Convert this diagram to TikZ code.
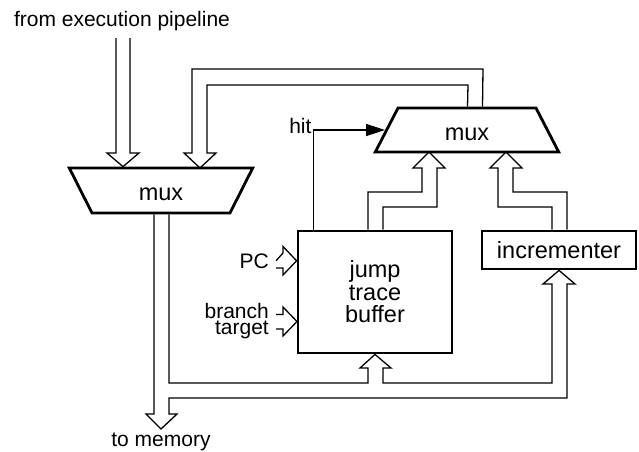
\documentclass[tikz,border=0pt]{standalone}
\usepackage{fontspec}
\setmainfont{Liberation Sans}
\usetikzlibrary{arrows.meta, shapes.geometric}
\newcommand{\lblfont}{\fontsize{21}{16.5}\selectfont}
\newcommand{\boxfont}{\fontsize{23.5}{22.5}\selectfont}
\tikzset{
  muxbox/.style  = {trapezium, trapezium angle=71, trapezium stretches=true, draw,
                    line width=2.8pt, minimum width=184pt, minimum height=45pt,
                    inner sep=0pt, text height=21pt, font=\boxfont},
  unitbox/.style = {rectangle, draw, line width=2.8pt, minimum width=154pt,
                    inner sep=0pt, align=center, font=\boxfont},
  lbl/.style     = {font=\lblfont, inner sep=0pt},
  bus/.style     = {line width=1.3pt, line join=miter},
  ctl/.style     = {line width=1.3pt, -{Triangle[length=19pt, width=12pt]}},
}
\begin{document}
\begin{tikzpicture}[x=1pt, y=-1pt]
  \useasboundingbox (0,0) rectangle (639,451);
  % blocks
  \node[muxbox, shape border rotate=180] (lmux) at (161,190.5) {mux};
  \node[muxbox, minimum height=44pt]      (tmux) at (467,130)   {mux};
  \node[unitbox, minimum height=122pt]    (jtb)  at (375,292)   {jump\\trace\\buffer};
  \node[unitbox, minimum height=38pt]     (inc)  at (559,250)   {incrementer};
  % labels
  \node[lbl, anchor=base] (pipe) at (122,26)  {from execution pipeline};
  \node[lbl, anchor=base] (mem)  at (161,446) {to memory};
  \node[lbl, anchor=base east] (pc) at (269,268) {PC};
  \node[lbl, anchor=east, align=right] (tgt) at (269,321) {branch\\target};
  \coordinate (pipein) at (123,38);
  % buses
  \draw[bus] ([xshift=-7pt]pipein) -- (116,153) -- (107,153) -- (lmux.north -| pipein)
             -- (139,153) -- (130,153) -- ([xshift=7pt]pipein);
  \draw[bus] ([xshift=15.5pt]tmux.north) -- (483,69) -- (192,69) -- (192,153) -- (184,153)
             -- (200,168) -- (216,153) -- (207,153) -- (207,85) -- (468,85)
             -- ([xshift=0.5pt]tmux.north);
  \draw[bus] ([xshift=-7pt]jtb.north) -- (368,192) -- (422,192) -- (422,168) -- (413,168)
             -- (429,152) -- (445,168) -- (437,168) -- (437,207) -- (383,207)
             -- ([xshift=8pt]jtb.north);
  \draw[bus] ([xshift=-7pt]inc.north) -- (552,207) -- (498,207) -- (498,168) -- (490,168)
             -- (506,152) -- (522,168) -- (513,168) -- (513,192) -- (567,192)
             -- ([xshift=8pt]inc.north);
  \draw[bus] ([xshift=-7pt]lmux.south) -- (154,414) -- (146,414) -- (161,429) -- (177,414)
             -- (169,414) -- (169,398) -- (567,398) -- (567,284) -- (575,284)
             -- (inc.south) -- (543,284) -- (552,284) -- (552,383) -- (383,383)
             -- (383,368) -- (391,368) -- (jtb.south) -- (360,368) -- (368,368)
             -- (368,383) -- (169,383) -- ([xshift=8pt]lmux.south);
  \draw[bus] ([xshift=7pt]pc.east) -- (283,253) -- (283,246.5) -- (jtb.west |- pc)
             -- (283,275) -- (283,268) -- (276,268);
  \draw[bus] (276,314.5) -- (283,314.5) -- (283,307) -- (297,321.5)
             -- (283,336) -- (283,329) -- (276,329);
  % hit signal
  \draw[ctl] ([xshift=17pt]jtb.north west) |-
             node[lbl, anchor=base east, xshift=-1.5pt, yshift=-3.3pt] (hit) {hit} (tmux.west);
\end{tikzpicture}
\end{document}
